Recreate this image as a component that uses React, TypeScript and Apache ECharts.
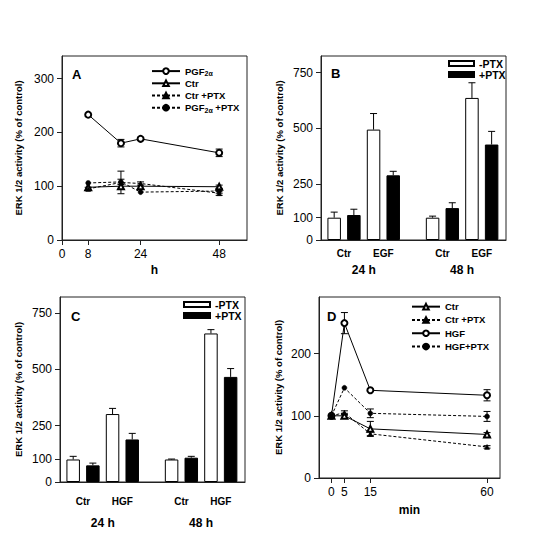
import React, { useEffect, useRef } from 'react';
import * as echarts from 'echarts';

const FONT = '"Liberation Sans", Arial, Helvetica, sans-serif';
const INK = '#000';
const AXIS = '#222';

// ---------- Panel A (hours) ----------
const aHours = [8, 18, 24, 48];
const aPGF = [233, 180, 188, 162];
const aPGFErr = [0, 7, 3, 7];
const aCtr = [98, 100, 100, 99];
const aCtrErr = [0, 0, 0, 3];
const aCtrPTX = [95, 107, 105, 87];
const aCtrPTXErr = [3, 21, 3, 4];
const aPGFPTX = [106, 108, 89, 91];
const aPGFPTXErr = [0, 5, 0, 4];
const aXTicks = [0, 8, 24, 48];
const aYTicks = [0, 100, 200, 300];

// ---------- Panel B (EGF bars) ----------
const barSlotsMinus = [0, 2, 5, 7];
const barSlotsPlus = [1, 3, 6, 8];
const bMinus = [100, 495, 100, 637];
const bMinusErr = [25, 72, 7, 68];
const bPlus = [112, 290, 143, 428];
const bPlusErr = [26, 18, 24, 59];
const bGroupLabels = ['Ctr', 'EGF', 'Ctr', 'EGF'];

// ---------- Panel C (HGF bars) ----------
const cMinus = [100, 302, 100, 660];
const cMinusErr = [14, 25, 2, 17];
const cPlus = [74, 189, 108, 467];
const cPlusErr = [10, 27, 6, 37];
const cGroupLabels = ['Ctr', 'HGF', 'Ctr', 'HGF'];

const groupLabelPos = [0.5, 2.5, 5.5, 7.5];
const timeLabels = ['24 h', '48 h'];
const timeLabelPos = [1.5, 6.5];
const barYTicks = [0, 100, 250, 500, 750];

// ---------- Panel D (minutes) ----------
const dMin = [0, 5, 15, 60];
const dCtr = [100, 100, 79, 70];
const dCtrErr = [0, 4, 12, 3];
const dCtrPTX = [100, 105, 71, 50];
const dCtrPTXErr = [0, 3, 3, 2];
const dHGF = [100, 249, 141, 133];
const dHGFErr = [0, 17, 0, 9];
const dHGFPTX = [100, 145, 104, 99];
const dHGFPTXErr = [0, 0, 7, 8];
const dXTicks = [0, 5, 15, 60];
const dYTicks = [0, 100, 200];

const Y_NAME = 'ERK 1/2 activity (% of control)';

function lineSeries(name: string, xi: number, yi: number, xs: number[], ys: number[], symbol: string, dashed: boolean) {
  const empty = symbol.indexOf('empty') === 0;
  return {
    type: 'line',
    name,
    xAxisIndex: xi,
    yAxisIndex: yi,
    data: xs.map((x, k) => [x, ys[k]]),
    symbol,
    symbolSize: empty ? 6 : 5,
    showSymbol: true,
    lineStyle: { color: INK, width: 1, type: dashed ? [3, 2] : 'solid' },
    itemStyle: { color: INK, borderColor: INK, borderWidth: empty ? 0.9 : 0.5 },
    z: 3,
    silent: true,
  };
}

function errSeries(xi: number, yi: number, xs: number[], ys: number[], errs: number[], upOnly: boolean) {
  return {
    type: 'custom',
    xAxisIndex: xi,
    yAxisIndex: yi,
    data: xs.map((x, k) => [x, ys[k], errs[k]]),
    encode: { x: 0, y: 1 },
    z: 2,
    silent: true,
    renderItem: (_params: any, api: any) => {
      const x = api.value(0);
      const y = api.value(1);
      const e = api.value(2);
      if (!e) return { type: 'group', children: [] };
      const c = api.coord([x, y]);
      const t = api.coord([x, y + e]);
      const b = upOnly ? c : api.coord([x, y - e]);
      const hw = 3.5;
      const st = { stroke: INK, lineWidth: 1 };
      const children: any[] = [
        { type: 'line', shape: { x1: c[0], y1: b[1], x2: c[0], y2: t[1] }, style: st },
        { type: 'line', shape: { x1: c[0] - hw, y1: t[1], x2: c[0] + hw, y2: t[1] }, style: st },
      ];
      if (!upOnly) children.push({ type: 'line', shape: { x1: c[0] - hw, y1: b[1], x2: c[0] + hw, y2: b[1] }, style: st });
      return { type: 'group', children };
    },
  };
}

function barSeries(name: string, xi: number, yi: number, xs: number[], ys: number[], fill: string) {
  return {
    type: 'bar',
    name,
    xAxisIndex: xi,
    yAxisIndex: yi,
    data: xs.map((x, k) => [x, ys[k]]),
    barWidth: 13.5,
    barGap: '-100%',
    itemStyle: { color: fill, borderColor: INK, borderWidth: 1 },
    z: 3,
    silent: true,
  };
}

const axisLine = { show: true, onZero: false, lineStyle: { color: AXIS, width: 1 } };
const tickLabel = { color: INK, fontFamily: FONT, fontSize: 12 };

function yAxis(gridIndex: number, max: number, ticks: number[], nameGap: number) {
  return {
    type: 'value',
    gridIndex,
    position: 'left',
    min: 0,
    max,
    axisLine,
    axisTick: { show: true, customValues: ticks, length: 5, lineStyle: { color: AXIS } },
    axisLabel: { ...tickLabel, customValues: ticks, margin: 8 },
    splitLine: { show: false },
    name: Y_NAME,
    nameLocation: 'middle',
    nameGap,
    nameTextStyle: { color: INK, fontFamily: FONT, fontSize: 9.5, fontWeight: 'bold' },
  };
}

function numXAxis(gridIndex: number, min: number, max: number, ticks: number[], name: string, nameGap: number) {
  return {
    type: 'value',
    gridIndex,
    position: 'bottom',
    min,
    max,
    axisLine,
    axisTick: { show: true, customValues: ticks, length: 5, lineStyle: { color: AXIS } },
    axisLabel: { ...tickLabel, customValues: ticks, margin: 8 },
    splitLine: { show: false },
    name,
    nameLocation: 'middle',
    nameGap,
    nameTextStyle: { color: INK, fontFamily: FONT, fontSize: 12, fontWeight: 'bold' },
  };
}

const SLOT_MIN = -0.67;
const SLOT_MAX = 8.73;

function groupXAxis(gridIndex: number, labels: string[], margin: number) {
  return {
    type: 'value',
    gridIndex,
    position: 'bottom',
    min: SLOT_MIN,
    max: SLOT_MAX,
    axisLine,
    axisTick: { show: false },
    axisLabel: {
      color: INK,
      fontFamily: FONT,
      fontSize: 10,
      fontWeight: 'bold',
      margin,
      customValues: groupLabelPos,
      formatter: (v: number) => {
        const i = groupLabelPos.indexOf(v);
        return i >= 0 ? labels[i] : '';
      },
    },
    splitLine: { show: false },
  };
}

function timeXAxis(gridIndex: number, margin: number) {
  return {
    type: 'value',
    gridIndex,
    position: 'bottom',
    offset: 0,
    min: SLOT_MIN,
    max: SLOT_MAX,
    axisLine: { show: false },
    axisTick: { show: false },
    axisLabel: {
      color: INK,
      fontFamily: FONT,
      fontSize: 12,
      fontWeight: 'bold',
      margin,
      customValues: timeLabelPos,
      formatter: (v: number) => {
        const i = timeLabelPos.indexOf(v);
        return i >= 0 ? timeLabels[i] : '';
      },
    },
    splitLine: { show: false },
  };
}

const legendFormatter = (name: string) => {
  const s = name.split('|')[1] || name;
  return s.replace('PGF2α', 'PGF{sub|2α}');
};

const legendText = (fontSize: number, lineHeight: number) => ({
  color: INK,
  fontFamily: FONT,
  fontSize,
  fontWeight: 'bold',
  lineHeight,
  rich: {
    sub: { fontSize: 7, fontWeight: 'bold', fontFamily: FONT, color: INK, verticalAlign: 'bottom' },
  },
});

function letter(text: string, left: number, top: number) {
  return {
    text,
    left,
    top,
    padding: 0,
    textStyle: { color: INK, fontFamily: FONT, fontSize: 13, fontWeight: 'bold' },
  };
}

const grid = (left: number, top: number, width: number, height: number) => ({
  left,
  top,
  width,
  height,
  show: true,
  borderColor: AXIS,
  borderWidth: 1,
  backgroundColor: 'transparent',
  containLabel: false,
});

const option: any = {
  animation: false,
  backgroundColor: '#fff',
  textStyle: { fontFamily: FONT },
  title: [letter('A', 72, 68), letter('B', 331, 67), letter('C', 71, 310), letter('D', 327, 310)],
  grid: [grid(62, 56, 185, 184), grid(321, 56, 185, 184), grid(60, 297, 185, 185), grid(319, 297, 181, 181)],
  xAxis: [
    numXAxis(0, 0, 56.5, aXTicks, 'h', 24),
    groupXAxis(1, bGroupLabels, 8),
    timeXAxis(1, 24),
    groupXAxis(2, cGroupLabels, 14),
    timeXAxis(2, 35),
    numXAxis(3, -4.8, 65, dXTicks, 'min', 26),
  ],
  yAxis: [
    yAxis(0, 342, aYTicks, 39),
    yAxis(1, 825, barYTicks, 37),
    yAxis(2, 822, barYTicks, 37),
    yAxis(3, 291, dYTicks, 36),
  ],
  legend: [
    {
      data: ['A|PGF2α', 'A|Ctr', 'A|Ctr +PTX', 'A|PGF2α +PTX'],
      orient: 'vertical',
      left: 151,
      top: 65,
      padding: 0,
      itemGap: 0,
      itemWidth: 28,
      itemHeight: 7,
      selectedMode: false,
      formatter: legendFormatter,
      textStyle: legendText(9.5, 12.2),
    },
    {
      data: ['B|-PTX', 'B|+PTX'],
      orient: 'vertical',
      left: 448,
      top: 58,
      padding: 0,
      itemGap: 0,
      itemWidth: 25,
      itemHeight: 5,
      icon: 'rect',
      selectedMode: false,
      formatter: legendFormatter,
      textStyle: legendText(10.5, 9.5),
    },
    {
      data: ['C|-PTX', 'C|+PTX'],
      orient: 'vertical',
      left: 183,
      top: 299,
      padding: 0,
      itemGap: 0,
      itemWidth: 26,
      itemHeight: 5,
      icon: 'rect',
      selectedMode: false,
      formatter: legendFormatter,
      textStyle: legendText(10.5, 9),
    },
    {
      data: ['D|Ctr', 'D|Ctr +PTX', 'D|HGF', 'D|HGF+PTX'],
      orient: 'vertical',
      left: 411,
      top: 300,
      padding: 0,
      itemGap: 0,
      itemWidth: 28,
      itemHeight: 7,
      selectedMode: false,
      formatter: legendFormatter,
      textStyle: legendText(9.5, 13.3),
    },
  ],
  series: [
    // A
    errSeries(0, 0, aHours, aPGF, aPGFErr, false),
    errSeries(0, 0, aHours, aCtr, aCtrErr, false),
    errSeries(0, 0, aHours, aCtrPTX, aCtrPTXErr, false),
    errSeries(0, 0, aHours, aPGFPTX, aPGFPTXErr, false),
    lineSeries('A|PGF2α', 0, 0, aHours, aPGF, 'emptyCircle', false),
    lineSeries('A|Ctr', 0, 0, aHours, aCtr, 'emptyTriangle', false),
    lineSeries('A|Ctr +PTX', 0, 0, aHours, aCtrPTX, 'triangle', true),
    lineSeries('A|PGF2α +PTX', 0, 0, aHours, aPGFPTX, 'circle', true),
    // B
    barSeries('B|-PTX', 1, 1, barSlotsMinus, bMinus, '#fff'),
    barSeries('B|+PTX', 1, 1, barSlotsPlus, bPlus, '#000'),
    errSeries(1, 1, barSlotsMinus, bMinus, bMinusErr, true),
    errSeries(1, 1, barSlotsPlus, bPlus, bPlusErr, true),
    // C
    barSeries('C|-PTX', 3, 2, barSlotsMinus, cMinus, '#fff'),
    barSeries('C|+PTX', 3, 2, barSlotsPlus, cPlus, '#000'),
    errSeries(3, 2, barSlotsMinus, cMinus, cMinusErr, true),
    errSeries(3, 2, barSlotsPlus, cPlus, cPlusErr, true),
    // D
    errSeries(5, 3, dMin, dCtr, dCtrErr, false),
    errSeries(5, 3, dMin, dCtrPTX, dCtrPTXErr, false),
    errSeries(5, 3, dMin, dHGF, dHGFErr, false),
    errSeries(5, 3, dMin, dHGFPTX, dHGFPTXErr, false),
    lineSeries('D|Ctr', 5, 3, dMin, dCtr, 'emptyTriangle', false),
    lineSeries('D|Ctr +PTX', 5, 3, dMin, dCtrPTX, 'triangle', true),
    lineSeries('D|HGF', 5, 3, dMin, dHGF, 'emptyCircle', false),
    lineSeries('D|HGF+PTX', 5, 3, dMin, dHGFPTX, 'circle', true),
  ],
};

export default function App() {
  const ref = useRef<HTMLDivElement>(null);
  useEffect(() => {
    if (!ref.current) return;
    const chart = echarts.init(ref.current, null, { renderer: 'svg' });
    chart.setOption(option);
    return () => chart.dispose();
  }, []);
  return (
    <div
      ref={ref}
      style={{ position: 'absolute', left: 0, top: 0, width: 533, height: 538, background: '#fff' }}
    />
  );
}
